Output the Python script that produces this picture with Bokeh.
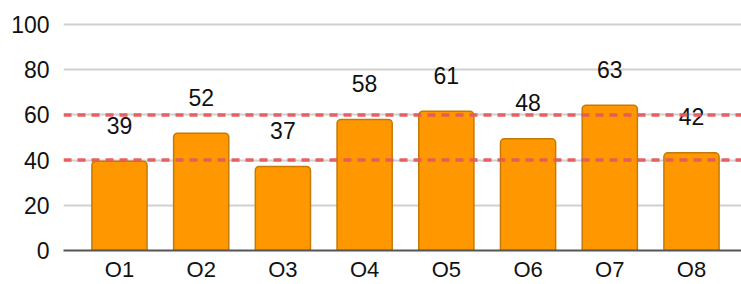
from bokeh.plotting import figure
from bokeh.models import Range1d, FixedTicker, Span, ColumnDataSource
from bokeh.core.properties import value
from bokeh.embed import file_html
from bokeh.resources import INLINE

categories = ["O1", "O2", "O3", "O4", "O5", "O6", "O7", "O8"]
values = [39.5, 51.9, 37.2, 58.0, 61.6, 49.4, 64.3, 43.2]
labels = ["39", "52", "37", "58", "61", "48", "63", "42"]
ref_lines = [40, 60]
y_ticks = [0, 20, 40, 60, 80, 100]

FONT = "Liberation Sans"

xs = list(range(len(categories)))
src = ColumnDataSource(dict(x=xs, top=values, label=labels))

p = figure(width=741, height=284, output_backend="svg", toolbar_location=None,
           x_range=Range1d(-0.685, 7.612), y_range=Range1d(0, 104.42),
           min_border_left=63, min_border_right=0, min_border_top=14,
           min_border_bottom=34)
p.outline_line_color = None
p.background_fill_color = "white"
p.border_fill_color = "white"

p.xgrid.grid_line_color = None
p.ygrid.grid_line_color = "#d0d0d0"
p.ygrid.grid_line_width = 2

p.vbar(x="x", top="top", width=0.675, bottom=0, source=src,
       fill_color="#ff9800", line_color="#c47a06", line_width=1.5,
       border_radius=(4, 4, 0, 0))

for r in ref_lines:
    p.add_layout(Span(location=r, dimension="width", line_color="#e55a5c",
                      line_width=3.5, line_dash="8 6", line_alpha=0.95,
                      level="overlay"))

p.text(x="x", y="top", text="label", source=src, y_offset=-36,
       text_align="center", text_baseline="middle",
       text_font=value(FONT), text_font_size="23px", text_color="#111111")

p.yaxis.ticker = FixedTicker(ticks=y_ticks)
p.xaxis.ticker = FixedTicker(ticks=xs)
p.xaxis.major_label_overrides = {i: c for i, c in enumerate(categories)}

for ax in (p.xaxis, p.yaxis):
    ax.major_tick_line_color = None
    ax.minor_tick_line_color = None
    ax.major_tick_out = 0
    ax.major_tick_in = 0
    ax.minor_tick_out = 0
    ax.major_label_text_font = FONT
    ax.major_label_text_color = "#111111"

p.yaxis.major_label_text_font_size = "23px"
p.yaxis.axis_line_color = None
p.yaxis.major_label_standoff = 14

p.xaxis.major_label_text_font_size = "22px"
p.xaxis.axis_line_color = "#555555"
p.xaxis.axis_line_width = 2
p.xaxis.major_label_standoff = 6

open("out.html", "w").write(file_html(p, INLINE))
